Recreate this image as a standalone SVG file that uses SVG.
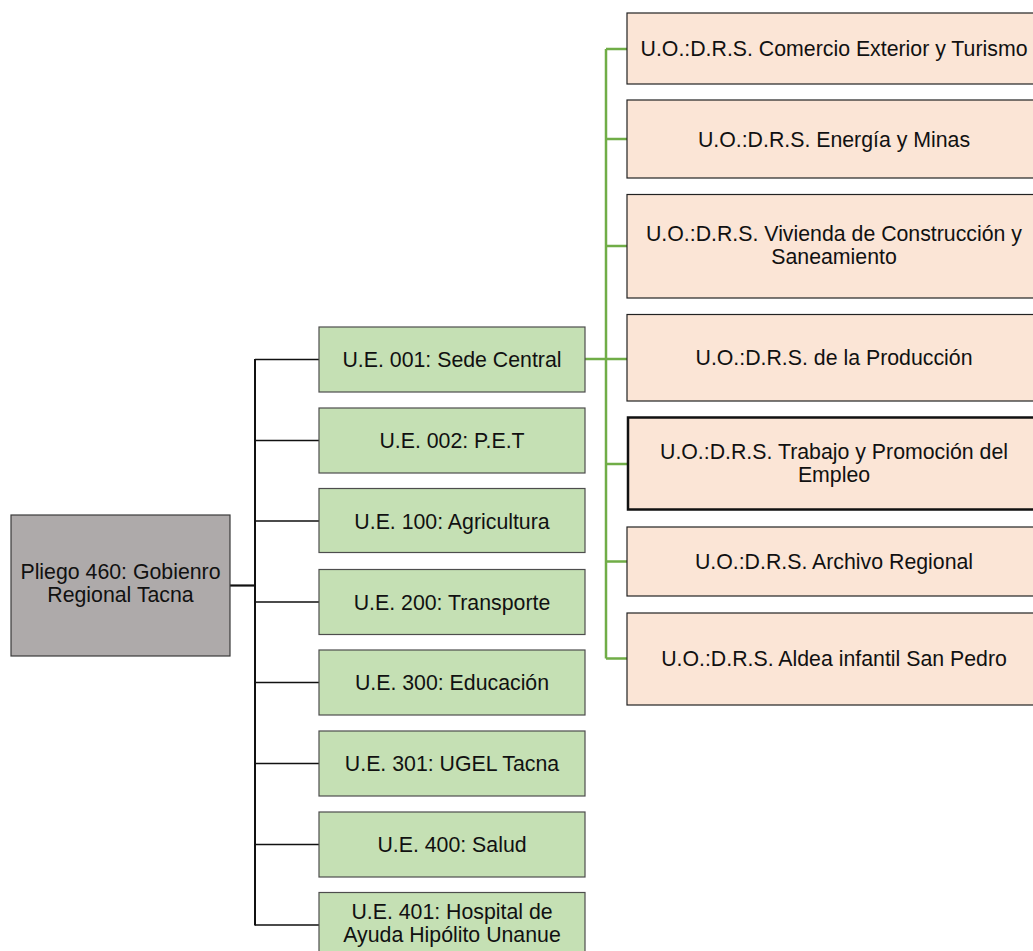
<svg xmlns="http://www.w3.org/2000/svg" width="1033" height="951" viewBox="0 0 1033 951">
<style>
text{font-family:"Liberation Sans",Arial,sans-serif;font-size:21.3px;fill:#111;text-anchor:middle}
.root{fill:#aeaaaa;stroke:#3a3a3a;stroke-width:1.2}
.ue{fill:#c5e0b4;stroke:#4d4d4d;stroke-width:1.2}
.uo{fill:#fbe5d6;stroke:#222;stroke-width:1.2}
.uo2{fill:#fbe5d6;stroke:#111;stroke-width:2.5}
.blk{stroke:#111;fill:none}
.grn{stroke:#70ad47;stroke-width:2.5;fill:none}
</style>
<g id="connectors">
<line class="blk" x1="230" y1="585.5" x2="255" y2="585.5" stroke-width="2.2"/>
<line class="blk" x1="255" y1="359" x2="255" y2="925.5" stroke-width="2"/>
<path class="blk" stroke-width="1.3" d="M255 359.5H319M255 440.5H319M255 521H319M255 602H319M255 682.5H319M255 763.5H319M255 844.5H319M255 925H319"/>
<path class="grn" d="M585 359H627M606 49V658.5M606 49H627M606 139H627M606 246H627M606 464H627M606 561.5H627M606 658.5H627"/>
</g>
<g id="root"><rect class="root" x="11" y="515" width="219" height="141"/><text x="120.5" y="579">Pliego 460: Gobienro</text><text x="120.5" y="602">Regional Tacna</text></g>
<g id="ue001"><rect class="ue" x="319" y="327" width="266" height="65"/><text x="452" y="367">U.E. 001: Sede Central</text></g>
<g id="ue002"><rect class="ue" x="319" y="408" width="266" height="65"/><text x="452" y="448">U.E. 002: P.E.T</text></g>
<g id="ue100"><rect class="ue" x="319" y="488.5" width="266" height="64"/><text x="452" y="528.5">U.E. 100: Agricultura</text></g>
<g id="ue200"><rect class="ue" x="319" y="569.5" width="266" height="65"/><text x="452" y="609.5">U.E. 200: Transporte</text></g>
<g id="ue300"><rect class="ue" x="319" y="650" width="266" height="65"/><text x="452" y="690">U.E. 300: Educación</text></g>
<g id="ue301"><rect class="ue" x="319" y="731" width="266" height="65"/><text x="452" y="771">U.E. 301: UGEL Tacna</text></g>
<g id="ue400"><rect class="ue" x="319" y="812" width="266" height="65"/><text x="452" y="852">U.E. 400: Salud</text></g>
<g id="ue401"><rect class="ue" x="319" y="892.5" width="266" height="65"/><text x="452" y="918.5">U.E. 401: Hospital de</text><text x="452" y="941.5">Ayuda Hipólito Unanue</text></g>
<g id="uo1"><rect class="uo" x="627" y="13" width="414" height="71"/><text x="834" y="56">U.O.:D.R.S. Comercio Exterior y Turismo</text></g>
<g id="uo2"><rect class="uo" x="627" y="100" width="414" height="78"/><text x="834" y="146.5">U.O.:D.R.S. Energía y Minas</text></g>
<g id="uo3"><rect class="uo" x="627" y="194.5" width="414" height="103.5"/><text x="834" y="241">U.O.:D.R.S. Vivienda de Construcción y</text><text x="834" y="264">Saneamiento</text></g>
<g id="uo4"><rect class="uo" x="627" y="314.5" width="414" height="86.5"/><text x="834" y="365">U.O.:D.R.S. de la Producción</text></g>
<g id="uo5"><rect class="uo2" x="628" y="417.5" width="414" height="92"/><text x="834" y="459">U.O.:D.R.S. Trabajo y Promoción del</text><text x="834" y="482">Empleo</text></g>
<g id="uo6"><rect class="uo" x="627" y="527" width="414" height="69"/><text x="834" y="569">U.O.:D.R.S. Archivo Regional</text></g>
<g id="uo7"><rect class="uo" x="627" y="613" width="414" height="92"/><text x="834" y="666">U.O.:D.R.S. Aldea infantil San Pedro</text></g>
</svg>
